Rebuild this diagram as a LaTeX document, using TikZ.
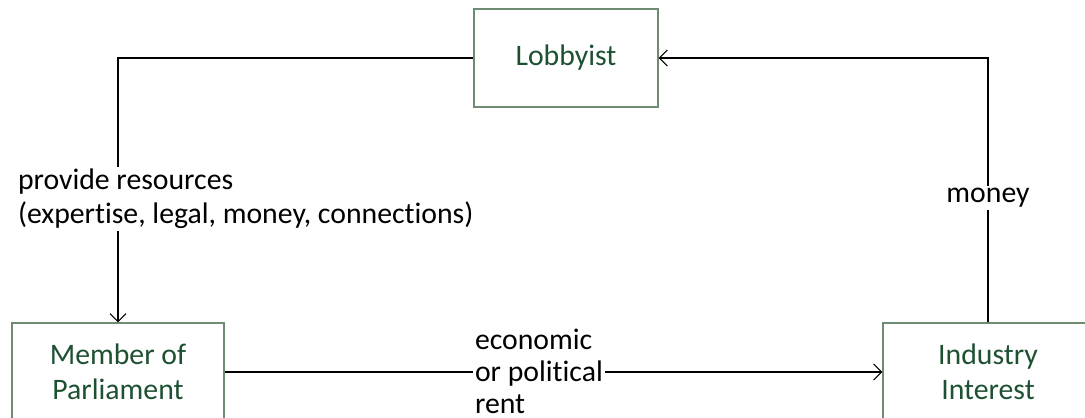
\documentclass[tikz,border=0pt]{standalone}
\usepackage{fontspec}
\setmainfont{Carlito}[Ligatures=NoCommon]
\usetikzlibrary{arrows.meta, positioning, calc}
\definecolor{lbgreen}{RGB}{30, 80, 50}
\definecolor{lbframe}{RGB}{110, 140, 115}

\begin{document}
\begin{tikzpicture}[x=0.4pt, y=-0.4pt,
  >={Straight Barb[length=3.2pt, width=6.4pt]},
  actor/.style={draw=lbframe, line width=0.5pt, text=lbgreen, align=center,
    minimum height=39.2pt, font=\fontsize{11.9}{14}\selectfont},
  flow/.style={->, line width=0.45pt},
  tag/.style={fill=white, inner sep=1pt, font=\fontsize{11.9}{13.6}\selectfont}]

  \useasboundingbox (0,0) rectangle (1085,418);
  \clip (0,0) rectangle (1085,418);

  % --- the three actors ---
  \node[actor, minimum width=73.6pt] (lobby) at (566,58) {Lobbyist};
  \node[actor, minimum width=84.8pt] (mp) at (118,372) {Member of\\Parliament};
  \node[actor, minimum width=84pt] (ind) at (988,372) {Industry\\Interest};

  % --- corners of the loop ---
  \coordinate (lcorner) at (118,58);
  \coordinate (rcorner) at (988,58);

  % --- flows ---
  \draw[flow] (lobby.west) -- (lcorner) -- (mp.north);
  \draw[flow] (mp.east) -- (ind.west);
  \draw[flow] (ind.north) -- (rcorner) -- (lobby.east);

  % --- labels on the flows ---
  \node[tag, align=left, anchor=west] (res) at (15,199)
    {provide resources\\(expertise, legal, money, connections)};
  \node[tag] (money) at (988,198) {money};
  \node[tag, align=left, anchor=west,
    font=\fontsize{11.9}{12.8}\selectfont] (rent) at (472,371)
    {economic\\or political\\rent};

\end{tikzpicture}
\end{document}
